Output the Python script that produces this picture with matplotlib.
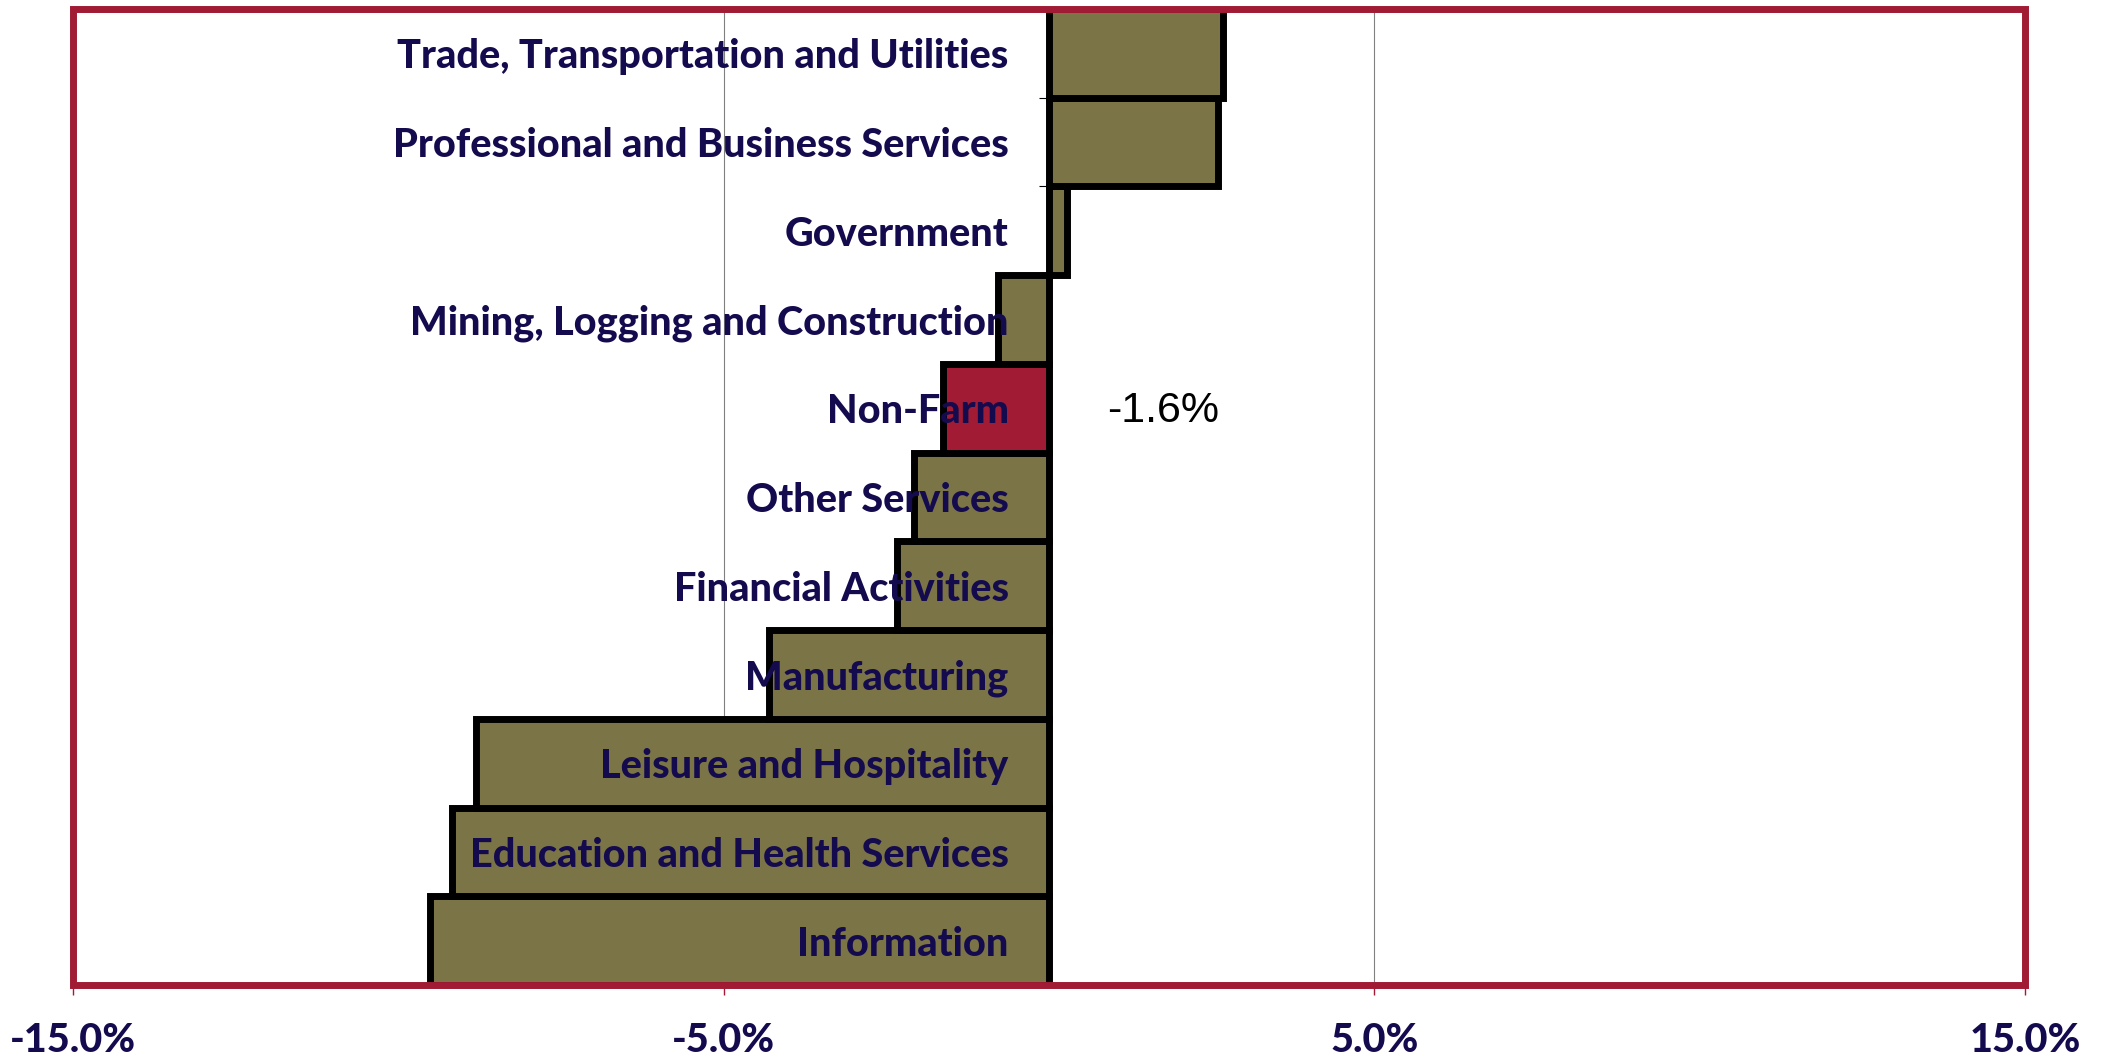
import matplotlib
matplotlib.use("Agg")
import matplotlib.pyplot as plt
from matplotlib.patches import Rectangle
import numpy as np

categories = ["Information", "Education and Health Services", "Leisure and Hospitality",
              "Manufacturing", "Financial Activities", "Other Services", "Non-Farm",
              "Mining, Logging and Construction", "Government",
              "Professional and Business Services", "Trade, Transportation and Utilities"]
values = [-9.52, -9.18, -8.80, -4.31, -2.34, -2.07, -1.63, -0.78, 0.28, 2.59, 2.67]
highlight = "Non-Farm"
highlight_label = "-1.6%"
xticks = [-15, -5, 5, 15]
xtick_labels = ["-15.0%", "-5.0%", "5.0%", "15.0%"]

OLIVE = "#7B7446"
RED = "#A01B33"
NAVY = "#140A4E"

fig = plt.figure(figsize=(21.13, 10.58), dpi=100)
ax = fig.add_axes([73/2113, 1-985/1058, (2025-73)/2113, (985-9)/1058])

y = np.arange(len(categories))
colors = [RED if c == highlight else OLIVE for c in categories]
ax.barh(y, values, height=1.0, color=colors, edgecolor="black", linewidth=5, zorder=1)

ax.set_xlim(-15, 15)
ax.set_ylim(-0.5, len(categories) - 0.5)

for gx in [-5, 5]:
    ax.axvline(gx, color="#808080", linewidth=0.8, zorder=0.5)

for s in ["top", "right", "bottom"]:
    ax.spines[s].set_visible(False)
ax.spines["left"].set_position(("data", 0))
ax.spines["left"].set_color("black")
ax.spines["left"].set_linewidth(0.8)

FONT = dict(fontfamily="Lato", fontweight=900, fontsize=28.5, color=NAVY)

ax.set_yticks(y)
ax.set_yticklabels(categories, **FONT)
ax.tick_params(axis="y", which="major", length=0, pad=29)
ax.set_yticks(np.arange(len(categories) - 1) + 0.5, minor=True)
ax.tick_params(axis="y", which="minor", length=7, width=0.8, color="black", direction="out")

ax.set_xticks(xticks)
ax.set_xticklabels(xtick_labels, **FONT)
ax.tick_params(axis="x", length=7, width=1, color=RED, pad=20)

ax.add_patch(Rectangle((0, 0), 1, 1, transform=ax.transAxes, fill=False,
                       edgecolor=RED, linewidth=5, zorder=3, clip_on=False))

idx = categories.index(highlight)
ax.annotate(highlight_label, xy=(0, y[idx]), xytext=(42, -2), textcoords="offset points",
            ha="left", va="center", fontsize=31, fontfamily="Liberation Sans", color="black")

fig.savefig("out.png", dpi=100)
